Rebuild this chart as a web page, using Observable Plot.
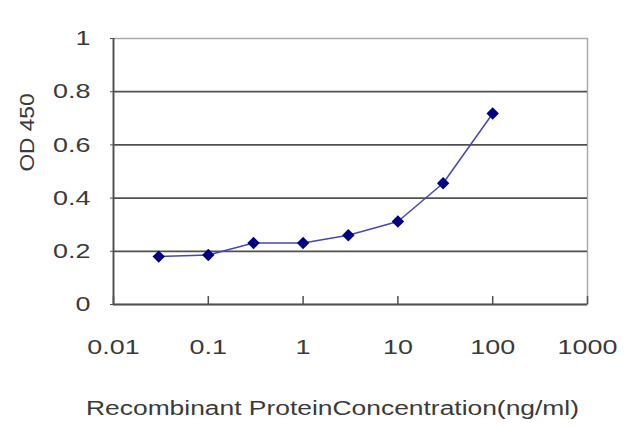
<!DOCTYPE html>
<html>
<head>
<meta charset="utf-8">
<script src="https://cdn.jsdelivr.net/npm/d3@7"></script>
<script src="https://cdn.jsdelivr.net/npm/@observablehq/plot@0.6"></script>
<style>
  html, body { margin: 0; padding: 0; background: #fff; }
  svg { display: block; }
</style>
</head>
<body>
<script>
const concentrations = [0.03, 0.1, 0.3, 1, 3, 10, 30, 100];
const odValues = [0.18, 0.186, 0.231, 0.231, 0.26, 0.312, 0.456, 0.718];
const xTicks = [0.01, 0.1, 1, 10, 100, 1000];
const xTickLabels = ["0.01", "0.1", "1", "10", "100", "1000"];
const yTicks = [0, 0.2, 0.4, 0.6, 0.8, 1];
const yTickLabels = ["0", "0.2", "0.4", "0.6", "0.8", "1"];
const xTitle = "Recombinant ProteinConcentration(ng/ml)";
const yTitle = "OD 450";

const data = concentrations.map((c, i) => ({conc: c, od: odValues[i]}));

const chart = Plot.plot({
  width: 640,
  height: 427,
  marginLeft: 113,
  marginRight: 53,
  marginTop: 38,
  marginBottom: 123,
  style: {fontFamily: "Liberation Sans, Arial, sans-serif", fontSize: "21px", color: "#3a3a3a", background: "white"},
  x: {type: "log", domain: [0.01, 1000]},
  y: {domain: [0, 1]},
  marks: [
    Plot.frame({stroke: "#aaa", strokeWidth: 1.5}),
    Plot.ruleY(yTicks.slice(1, -1), {stroke: "#505050", strokeWidth: 1.8}),
    Plot.ruleX([xTicks[0]], {stroke: "#505050", strokeWidth: 1.8}),
    Plot.ruleY([yTicks[0]], {stroke: "#505050", strokeWidth: 1.8}),
    Plot.ruleX(xTicks, {y1: 0, y2: 0.03, stroke: "#505050", strokeWidth: 1.5}),
    Plot.axisY({ticks: yTicks, tickFormat: d => yTickLabels[yTicks.indexOf(d)], tickSize: 3, tickPadding: 20, label: null, stroke: "#505050"}),
    Plot.axisX({ticks: xTicks, tickFormat: d => xTickLabels[xTicks.indexOf(d)], tickSize: 0, tickPadding: 35, label: null}),
    Plot.line(data, {x: "conc", y: "od", stroke: "#4646b4", strokeWidth: 1.5}),
    Plot.dot(data, {x: "conc", y: "od", symbol: "diamond2", fill: "#000080", r: 5.6}),
    Plot.text([yTitle], {frameAnchor: "left", dx: -86, rotate: -90, text: d => d, fill: "#3a3a3a", fontSize: 20, lineAnchor: "middle"}),
    Plot.text([xTitle], {frameAnchor: "bottom", dx: -18, dy: 104, text: d => d, fill: "#3a3a3a", fontSize: 20, lineAnchor: "middle"})
  ]
});
document.body.appendChild(chart);

chart.querySelectorAll('[aria-label="x-axis tick label"] text, [aria-label="y-axis tick label"] text')
  .forEach(t => {
    const w = t.getComputedTextLength();
    t.setAttribute("textLength", (w * 1.28).toFixed(1));
    t.setAttribute("lengthAdjust", "spacingAndGlyphs");
  });
chart.querySelectorAll("text").forEach(t => {
  if (t.textContent === xTitle) { t.setAttribute("textLength", 493); t.setAttribute("lengthAdjust", "spacingAndGlyphs"); }
  if (t.textContent === yTitle) { t.setAttribute("textLength", 78); t.setAttribute("lengthAdjust", "spacingAndGlyphs"); }
});
</script>
</body>
</html>
